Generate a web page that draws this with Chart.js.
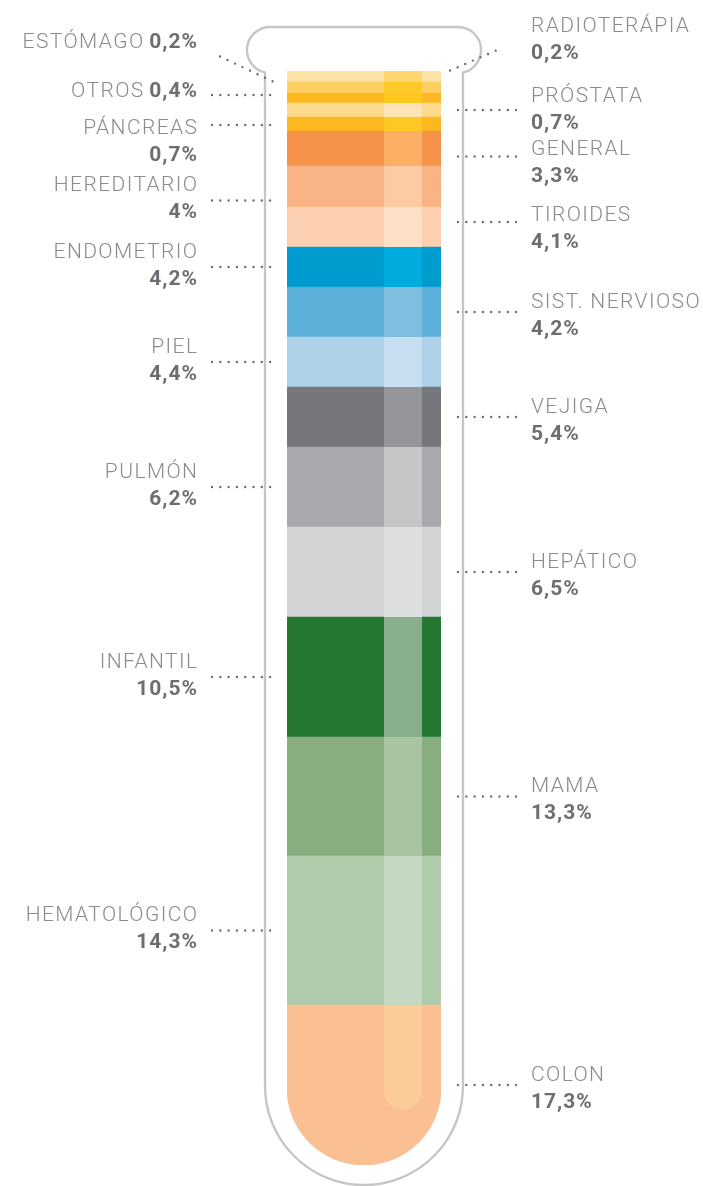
<!DOCTYPE html>
<html>
<head>
<meta charset="utf-8">
<script src="https://cdn.jsdelivr.net/npm/chart.js@4.4.0/dist/chart.umd.min.js"></script>
<style>
  html, body { margin: 0; padding: 0; background: #fff; }
  #tube { position: absolute; left: 0; top: 0; }
</style>
</head>
<body>
<canvas id="tube" width="703" height="1186"></canvas>
<script>
// segments from the bottom of the tube to the top
var categories = ['COLON', 'HEMATOLÓGICO', 'MAMA', 'INFANTIL', 'HEPÁTICO', 'PULMÓN',
    'VEJIGA', 'PIEL', 'SIST. NERVIOSO', 'ENDOMETRIO', 'TIROIDES', 'HEREDITARIO',
    'GENERAL', 'PÁNCREAS', 'PRÓSTATA', 'OTROS', 'ESTÓMAGO', 'RADIOTERÁPIA'];
var percentLabels = ['17,3%', '14,3%', '13,3%', '10,5%', '6,5%', '6,2%', '5,4%', '4,4%',
    '4,2%', '4,2%', '4,1%', '4%', '3,3%', '0,7%', '0,7%', '0,4%', '0,2%', '0,2%'];
// height of each layer as drawn in the tube (the picture is not to scale)
var layerHeights = [160, 149, 119, 120, 90, 80, 60, 50, 50, 40, 40, 41, 35, 14, 14, 10, 11, 11];
var sides = ['R', 'L', 'R', 'L', 'R', 'L', 'R', 'L', 'R', 'L', 'R', 'L', 'R', 'L', 'R', 'L', 'L', 'R'];

var fills = ['#FABF93', '#B0CAAC', '#88AD7E', '#257832', '#D2D3D5', '#A7A9AC', '#76777B',
    '#AED1E8', '#5BAFD8', '#009CCF', '#FDD0B1', '#FAB385', '#F6924A', '#FCB820',
    '#FDDA8E', '#FCB823', '#FDD066', '#FEE3A6'];
var shines = ['#FCCB9A', '#C4D8C2', '#A8C4A0', '#88AE8C', '#DDDEE0', '#C5C6C8', '#939598',
    '#C6DEF0', '#80BEE0', '#00ACDD', '#FEDFC8', '#FCCAA3', '#FAAF62', '#FDC822',
    '#FDE3B5', '#FDC820', '#FDCA2A', '#FED66B'];

// label tweaks: lead = leader line shift, n / v = name and value offsets from the leader
var tweaks = {
    'HEREDITARIO': { lead: 14 },
    'GENERAL': { lead: 8, n: -9, v: 18 },
    'TIROIDES': { lead: -5, n: -9, v: 18 },
    'PRÓSTATA': { n: -16, v: 11 },
    'PÁNCREAS': { lead: 1, n: 1, v: 28 },
    'OTROS': { lead: -3, inline: true, n: -6 },
    'ESTÓMAGO': { diag: true, inline: true },
    'RADIOTERÁPIA': { diag: true }
};

var GREY = '#8A8B8D';
var DARK = '#6D6E71';
var FONT = 'Roboto';

function dotted(ctx, x1, y1, x2, y2) {
    ctx.save();
    ctx.strokeStyle = DARK;
    ctx.lineWidth = 2.4;
    ctx.lineCap = 'round';
    ctx.setLineDash([0, 8.3]);
    ctx.beginPath();
    ctx.moveTo(x1, y1);
    ctx.lineTo(x2, y2);
    ctx.stroke();
    ctx.restore();
}

function setFont(ctx, bold) {
    ctx.font = (bold ? '700 ' : '300 ') + '21px ' + FONT;
    ctx.letterSpacing = bold ? '1px' : '1.4px';
    return bold ? 1 : 1.4;
}

function writeLine(ctx, parts, x, capMid, align) {
    // parts: [[text, bold], ...] drawn on one line, cap middle at capMid
    var base = capMid + 21 * 0.36;
    var widths = parts.map(function (p) {
        var ls = setFont(ctx, p[1]);
        return ctx.measureText(p[0]).width - ls;
    });
    var gap = 6;
    var total = widths.reduce(function (a, b) { return a + b; }, 0) + gap * (parts.length - 1);
    var cx = align === 'right' ? x - total : x;
    ctx.save();
    ctx.textAlign = 'left';
    parts.forEach(function (p, i) {
        setFont(ctx, p[1]);
        ctx.fillStyle = p[1] ? DARK : GREY;
        ctx.fillText(p[0], cx, base);
        cx += widths[i] + gap;
    });
    ctx.restore();
}

var tubePlugin = {
    id: 'tube',
    afterDatasetsDraw: function (chart) {
        var ctx = chart.ctx;
        var ca = chart.chartArea;
        var cx = (ca.left + ca.right) / 2;
        var r = (ca.right - ca.left) / 2;

        // lighter vertical shine
        var sx = ca.left + 97, sw = 38, sBottom = ca.bottom - 55;
        ctx.save();
        ctx.beginPath();
        ctx.moveTo(sx, ca.top);
        ctx.lineTo(sx + sw, ca.top);
        ctx.lineTo(sx + sw, sBottom - sw / 2);
        ctx.arc(sx + sw / 2, sBottom - sw / 2, sw / 2, 0, Math.PI);
        ctx.closePath();
        ctx.clip();
        chart.data.datasets.forEach(function (ds, i) {
            var el = chart.getDatasetMeta(i).data[0];
            ctx.fillStyle = shines[i];
            ctx.fillRect(sx, el.y, sw, el.base - el.y);
        });
        ctx.restore();

        // glass outline
        var wl = ca.left - 22, wr = ca.right + 22;
        var lipY = 50, lipR = 23;
        var lcx = ca.left - 17, rcx = ca.right + 17;
        var dy = Math.sqrt(lipR * lipR - (lcx - wl) * (lcx - wl));
        var bottomC = ca.bottom - r - 2;
        var outerR = wr - cx;
        ctx.save();
        ctx.strokeStyle = '#C6C6C6';
        ctx.lineWidth = 2.4;
        ctx.beginPath();
        ctx.moveTo(wl, bottomC);
        ctx.lineTo(wl, lipY + dy);
        ctx.arc(lcx, lipY, lipR, Math.PI / 2 + Math.asin((lcx - wl) / lipR), Math.PI * 1.5, false);
        ctx.lineTo(rcx, lipY - lipR);
        ctx.arc(rcx, lipY, lipR, Math.PI * 1.5, Math.PI / 2 - Math.asin((wr - rcx) / lipR), false);
        ctx.lineTo(wr, bottomC);
        ctx.arc(cx, bottomC, outerR, 0, Math.PI, false);
        ctx.stroke();
        ctx.restore();

        // leaders and labels
        chart.data.datasets.forEach(function (ds, i) {
            var el = chart.getDatasetMeta(i).data[0];
            var name = categories[i];
            var t = tweaks[name] || {};
            var y = (el.y + el.base) / 2 + (t.lead || 0);
            if (sides[i] === 'L') {
                if (t.diag) {
                    dotted(ctx, wl - 45, y - 31, wl + 8, y - 6);
                    writeLine(ctx, [[name, false], [percentLabels[i], true]], 197, y - 47, 'right');
                    return;
                }
                dotted(ctx, 212, y, 271.5, y);
                if (t.inline) {
                    writeLine(ctx, [[name, false], [percentLabels[i], true]], 197, y + (t.n || 0), 'right');
                } else {
                    writeLine(ctx, [[name, false]], 197, y + (t.n !== undefined ? t.n : -17), 'right');
                    writeLine(ctx, [[percentLabels[i], true]], 197, y + (t.v !== undefined ? t.v : 10), 'right');
                }
            } else {
                if (t.diag) {
                    dotted(ctx, wr - 13, y - 6, wr + 40, y - 29);
                    writeLine(ctx, [[name, false]], 531, y - 52, 'left');
                    writeLine(ctx, [[percentLabels[i], true]], 531, y - 25, 'left');
                    return;
                }
                dotted(ctx, 458, y, 517, y);
                writeLine(ctx, [[name, false]], 531, y + (t.n !== undefined ? t.n : -12), 'left');
                writeLine(ctx, [[percentLabels[i], true]], 531, y + (t.v !== undefined ? t.v : 15), 'left');
            }
        });
    }
};

var datasets = categories.map(function (name, i) {
    return {
        label: name,
        data: [layerHeights[i]],
        backgroundColor: fills[i],
        borderWidth: 0,
        borderSkipped: false,
        borderRadius: i === 0 ? { topLeft: 0, topRight: 0, bottomLeft: 77, bottomRight: 77 } : 0,
        barPercentage: 1,
        categoryPercentage: 1
    };
});

var total = layerHeights.reduce(function (a, b) { return a + b; }, 0);

new Chart(document.getElementById('tube'), {
    type: 'bar',
    data: { labels: [''], datasets: datasets },
    options: {
        responsive: false,
        animation: false,
        layout: { padding: { left: 287, right: 262, top: 71, bottom: 21 } },
        plugins: { legend: { display: false }, tooltip: { enabled: false } },
        scales: {
            x: { display: false, stacked: true },
            y: { display: false, stacked: true, min: 0, max: total }
        }
    },
    plugins: [tubePlugin]
});
</script>
</body>
</html>
